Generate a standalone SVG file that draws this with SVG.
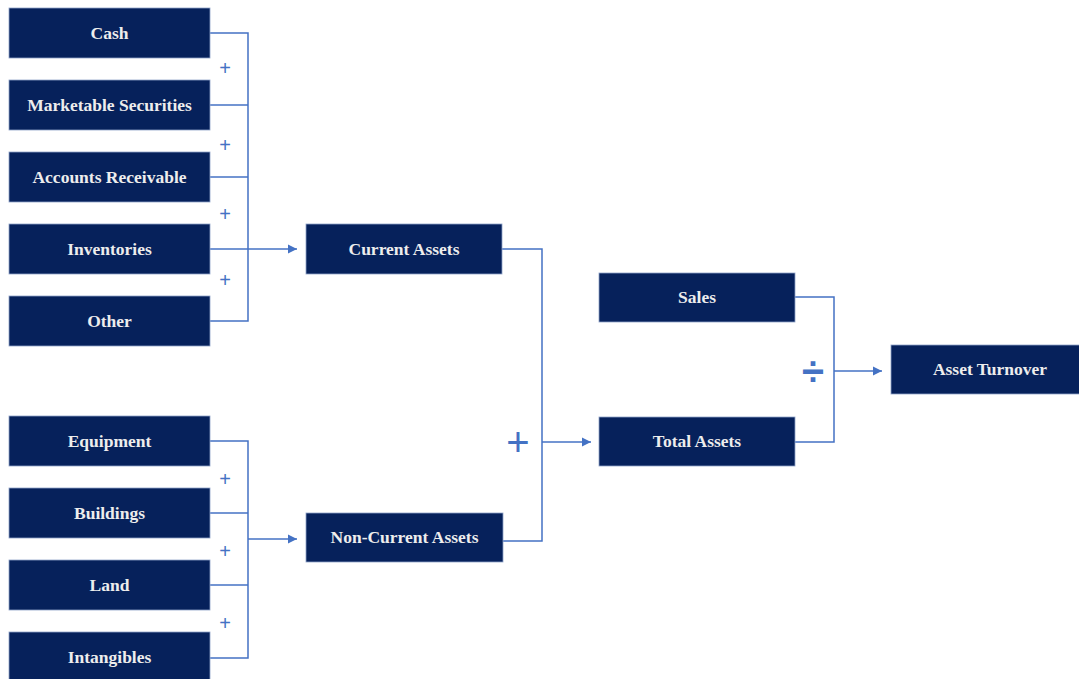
<svg xmlns="http://www.w3.org/2000/svg" width="1079" height="679" viewBox="0 0 1079 679">
<defs>
<marker id="arr" markerWidth="10" markerHeight="10" refX="9" refY="5" orient="auto" markerUnits="userSpaceOnUse">
<path d="M0,0.5 L9,5 L0,9.5 Z" fill="#4472C4"/>
</marker>
<style>
.box{fill:#06215B;stroke:#8FA3C8;stroke-width:0.8}
.lbl{font-family:"Liberation Serif","Times New Roman",serif;font-weight:bold;font-size:17.5px;fill:#EDEDED;text-anchor:middle;dominant-baseline:central}
.ln{fill:none;stroke:#4472C4;stroke-width:1.5}
.op{font-family:"Liberation Sans",Arial,sans-serif;fill:#4472C4;text-anchor:middle;dominant-baseline:central}
</style>
</defs>
<rect width="1079" height="679" fill="#FFFFFF"/>
<g id="connectors">
<polyline class="ln" points="210,33 248,33 248,321 210,321"/>
<line class="ln" x1="210" y1="105" x2="248" y2="105"/>
<line class="ln" x1="210" y1="177" x2="248" y2="177"/>
<line class="ln" x1="210" y1="249" x2="248" y2="249"/>
<line class="ln" x1="248" y1="249" x2="297" y2="249" marker-end="url(#arr)"/>
<polyline class="ln" points="210,441 248,441 248,658 210,658"/>
<line class="ln" x1="210" y1="513" x2="248" y2="513"/>
<line class="ln" x1="210" y1="585" x2="248" y2="585"/>
<line class="ln" x1="248" y1="539" x2="297" y2="539" marker-end="url(#arr)"/>
<polyline class="ln" points="502,249 542,249 542,541 502,541"/>
<line class="ln" x1="542" y1="442" x2="591" y2="442" marker-end="url(#arr)"/>
<polyline class="ln" points="795,297 834,297 834,442 795,442"/>
<line class="ln" x1="834" y1="371" x2="882" y2="371" marker-end="url(#arr)"/>
<text class="op" x="225" y="68" font-size="20">+</text>
<text class="op" x="225" y="145" font-size="20">+</text>
<text class="op" x="225" y="214" font-size="20">+</text>
<text class="op" x="225" y="280" font-size="20">+</text>
<text class="op" x="225" y="479" font-size="20">+</text>
<text class="op" x="225" y="551" font-size="20">+</text>
<text class="op" x="225" y="623" font-size="20">+</text>
<text class="op" x="518" y="442" font-size="40">+</text>
<text class="op" x="813" y="371" font-size="40" font-weight="bold">÷</text>
</g>
<g id="cash"><rect class="box" x="9" y="8" width="201" height="50"/><text class="lbl" x="109.5" y="33">Cash</text></g>
<g id="marketable-securities"><rect class="box" x="9" y="80" width="201" height="50"/><text class="lbl" x="109.5" y="105">Marketable Securities</text></g>
<g id="accounts-receivable"><rect class="box" x="9" y="152" width="201" height="50"/><text class="lbl" x="109.5" y="177">Accounts Receivable</text></g>
<g id="inventories"><rect class="box" x="9" y="224" width="201" height="50"/><text class="lbl" x="109.5" y="249">Inventories</text></g>
<g id="other"><rect class="box" x="9" y="296" width="201" height="50"/><text class="lbl" x="109.5" y="321">Other</text></g>
<g id="equipment"><rect class="box" x="9" y="416" width="201" height="50"/><text class="lbl" x="109.5" y="441">Equipment</text></g>
<g id="buildings"><rect class="box" x="9" y="488" width="201" height="50"/><text class="lbl" x="109.5" y="513">Buildings</text></g>
<g id="land"><rect class="box" x="9" y="560" width="201" height="50"/><text class="lbl" x="109.5" y="585">Land</text></g>
<g id="intangibles"><rect class="box" x="9" y="632" width="201" height="50"/><text class="lbl" x="109.5" y="657">Intangibles</text></g>
<g id="current-assets"><rect class="box" x="306" y="224" width="196" height="50"/><text class="lbl" x="404" y="249">Current Assets</text></g>
<g id="non-current-assets"><rect class="box" x="306" y="513" width="197" height="49"/><text class="lbl" x="404.5" y="537">Non-Current Assets</text></g>
<g id="sales"><rect class="box" x="599" y="273" width="196" height="49"/><text class="lbl" x="697" y="297">Sales</text></g>
<g id="total-assets"><rect class="box" x="599" y="417" width="196" height="49"/><text class="lbl" x="697" y="441">Total Assets</text></g>
<g id="asset-turnover"><rect class="box" x="891" y="345" width="192" height="49"/><text class="lbl" x="990" y="369">Asset Turnover</text></g>
</svg>
